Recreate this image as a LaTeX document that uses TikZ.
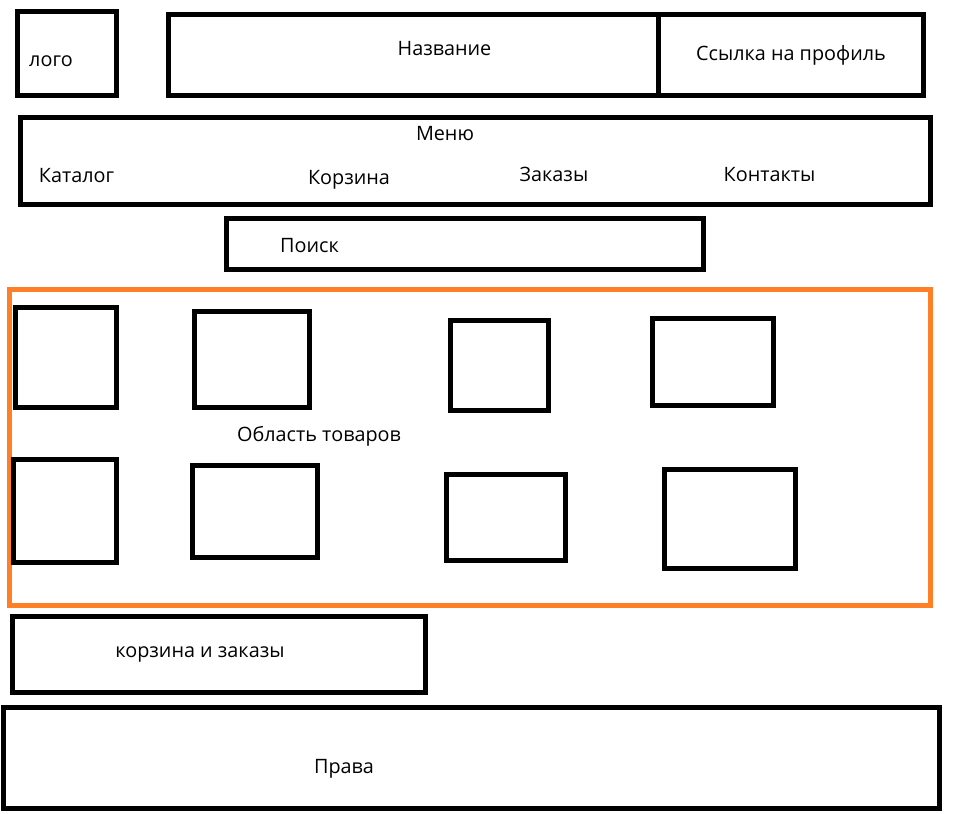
\documentclass[tikz,border=0pt]{standalone}
\usepackage{fontspec}
\setmainfont{Open Sans}
\usepackage{tikz}
\definecolor{areaorange}{RGB}{255,127,39}

\begin{document}
\begin{tikzpicture}[
				x=1pt, y=-1pt,
				block/.style 2 args={
					draw,
					line width=5pt,
					minimum width=#1,
					minimum height=#2,
					inner sep=0pt,
					fill=none
				},
				caption/.style={
					anchor=base,
					inner sep=0pt,
					font=\fontsize{19.8}{24}\selectfont
				}
				]
				
				\useasboundingbox (0,0) rectangle (967,814);
				
				\node[block={99pt}{84pt}] (logo) at (66.5,53) {};
				\node[block={490pt}{81pt}] (title) at (413,54.5) {};
				\node[block={265pt}{81pt}] (profile) at (790.5,54.5) {};
				\node[block={910pt}{87pt}] (menu) at (475,160.5) {};
				\node[block={477pt}{51pt}] (search) at (464.5,243.5) {};
				
				\node[block={921pt}{316pt}, draw=areaorange] (goods) at (469.5,447) {};
				
				\node[block={101pt}{100pt}] (item11) at (65.5,357) {};
				\node[block={115pt}{96pt}] (item12) at (251.5,359) {};
				\node[block={98pt}{90pt}] (item13) at (499,365) {};
				\node[block={121pt}{87pt}] (item14) at (712.5,361.5) {};
				\node[block={103pt}{103pt}] (item21) at (64.5,510.5) {};
				\node[block={125pt}{92pt}] (item22) at (254.5,511) {};
				\node[block={119pt}{86pt}] (item23) at (505.5,517) {};
				\node[block={131pt}{99pt}] (item24) at (729.5,518.5) {};
				
				\node[block={413pt}{76pt}] (cart) at (218.5,654) {};
				\node[block={936pt}{101pt}] (rights) at (471,757.5) {};
				
				\node[caption] (logotext) at (51,66) {лого};
				\node[caption] (titletext) at (444.5,55) {Название};
				\node[caption] (profiletext) at (791,60) {Ссылка на профиль};
				\node[caption] (menutext) at (445,140) {Меню};
				\node[caption] (catalogtext) at (76.5,182) {Каталог};
				\node[caption] (baskettext) at (349,184) {Корзина};
				\node[caption] (orderstext) at (554,181) {Заказы};
				\node[caption] (contactstext) at (769.5,181) {Контакты};
				\node[caption] (searchtext) at (309.5,252) {Поиск};
				\node[caption] (goodstext) at (319,441) {Область товаров};
				\node[caption] (carttext) at (200,657) {корзина и заказы};
				\node[caption] (rightstext) at (344,773) {Права};
				
			\end{tikzpicture}
\end{document}
